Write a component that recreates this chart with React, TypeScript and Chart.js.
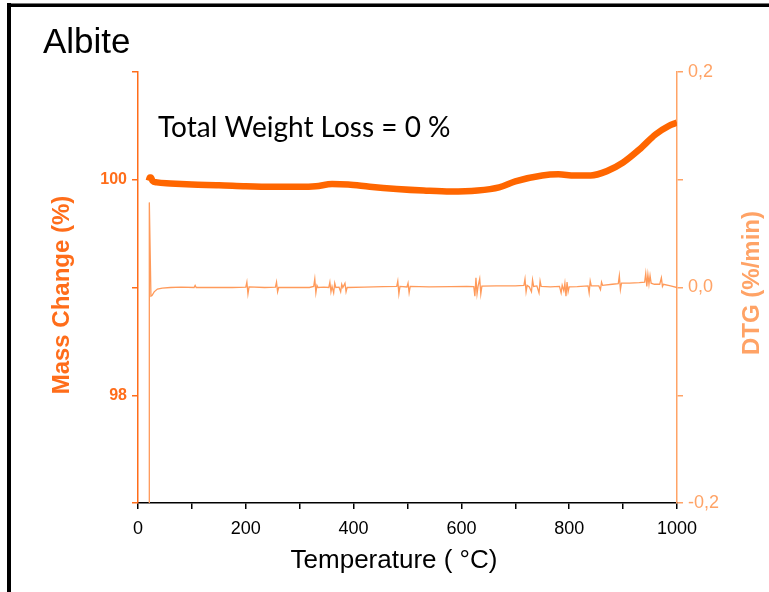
import React, { useEffect, useRef } from "react";
import { Chart, registerables } from "chart.js";

Chart.register(...registerables);

// TGA of albite: temperature (°C) vs. mass (%)
const massReadings: [number, number][] = [
  [20, 99.99], [22, 100.02], [24, 100.02], [27, 99.99], [35, 99.975], [60, 99.965],
  [100, 99.955], [150, 99.95], [200, 99.94], [250, 99.935], [300, 99.935], [330, 99.94],
  [360, 99.96], [390, 99.955], [430, 99.935], [480, 99.915], [530, 99.9], [580, 99.89],
  [630, 99.9], [670, 99.93], [700, 99.985], [750, 100.04], [780, 100.05], [810, 100.04],
  [840, 100.04], [870, 100.08], [900, 100.16], [930, 100.28], [960, 100.42], [985, 100.5],
  [1000, 100.53],
];

// DTG signal: temperature (°C) vs. rate (%/min)
const dtgReadings: [number, number][] = [
  [20.5, -0.25], [21, 0.079], [24, -0.008], [26, -0.0075], [30, -0.004], [36, -0.0015],
  [45, -0.0005], [60, 0], [80, 0.0003], [104, 0], [106, 0.002], [108, 0], [140, 0.0002],
  [175, 0], [200, 0.0004], [202, 0.005], [204, -0.006], [206, 0.0005], [235, 0],
  [255, 0.0003], [257, 0.005], [259, -0.004], [261, 0], [295, 0.0002], [318, 0],
  [326, 0.001], [328, 0.008], [330, -0.005], [332, 0.002], [334, 0], [345, 0.0003],
  [354, 0], [356, 0.005], [358, -0.004], [360, 0.001], [363, -0.005], [365, 0.004],
  [367, 0], [373, 0.0003], [376, -0.004], [378, 0.003], [380, 0], [384, 0.004],
  [386, -0.004], [388, 0], [420, 0.0004], [455, 0.0008], [480, 0.001], [482, 0.006],
  [484, -0.006], [486, 0.001], [499, 0.0005], [501, 0.004], [503, -0.005], [505, 0.001],
  [540, 0.0006], [580, 0.0008], [610, 0.001], [623, 0.0008], [625, -0.008], [627, 0.009],
  [629, -0.006], [631, 0.0012], [634, 0.008], [636, -0.006], [638, 0.0012], [665, 0.0015],
  [700, 0.0015], [716, 0.002], [718, 0.008], [720, -0.004], [722, 0.002], [726, 0.0005],
  [730, -0.004], [732, 0.007], [734, 0.001], [740, 0.0015], [744, -0.005], [746, 0.006],
  [748, 0.001], [765, 0.0005], [782, 0.001], [785, -0.005], [787, 0.002], [790, -0.003],
  [792, 0.004], [794, -0.008], [796, 0.005], [798, -0.004], [800, 0.0005], [815, 0.0008],
  [835, 0.0015], [837, -0.005], [839, 0.006], [841, 0.0015], [855, 0.0015], [858, -0.002],
  [860, 0.005], [862, 0.002], [880, 0.003], [891, 0.0035], [893, 0.011], [895, -0.002],
  [897, 0.004], [912, 0.004], [930, 0.0045], [940, 0.005], [942, 0.013], [944, 0.001],
  [946, 0.012], [948, 0.003], [950, 0.011], [952, 0.004], [958, 0.003], [968, 0.003],
  [971, 0.009], [973, 0.001], [975, 0.003], [988, 0.0015], [1000, 0],
];

const sampleName = "Albite";
const weightLossNote = "Total Weight Loss = 0 %";
const xTitle = "Temperature ( \u00B0C)";
const massTitle = "Mass Change (%)";
const dtgTitle = "DTG (%/min)";

const MASS_COLOR = "#FF6600";
const MASS_AXIS_COLOR = "#FF6D1A";
const DTG_COLOR = "#FF9A5A";
const DTG_AXIS_COLOR = "#FFA366";
const SANS = "'Liberation Sans', Arial, sans-serif";

const framePlugin = {
  id: "frameAndText",
  beforeDraw(chart: Chart) {
    const ctx = chart.ctx;
    ctx.save();
    ctx.fillStyle = "#ffffff";
    ctx.fillRect(0, 0, chart.width, chart.height);
    ctx.fillStyle = "#777777";
    ctx.fillRect(7, 3, chart.width - 7, 1);
    ctx.fillStyle = "#000000";
    ctx.fillRect(7, 4, chart.width - 7, 3);
    ctx.fillRect(7, 3, 4, chart.height - 3);
    ctx.restore();
  },
  afterDraw(chart: Chart) {
    const ctx = chart.ctx;
    ctx.save();
    ctx.fillStyle = "#000000";
    ctx.textBaseline = "alphabetic";
    ctx.textAlign = "left";
    ctx.font = `35px ${SANS}`;
    ctx.fillText(sampleName, 43, 53);

    ctx.font = "28px Lato, 'Open Sans', sans-serif";
    ctx.fillText(weightLossNote, 158, 137);

    ctx.textAlign = "center";
    ctx.textBaseline = "middle";
    ctx.font = `26px ${SANS}`;
    ctx.fillText(xTitle, 394, 561);

    ctx.font = `bold 24px ${SANS}`;
    ctx.fillStyle = MASS_AXIS_COLOR;
    ctx.translate(62, 295);
    ctx.rotate(-Math.PI / 2);
    ctx.fillText(massTitle, 0, 0);
    ctx.restore();

    ctx.save();
    ctx.font = `bold 24px ${SANS}`;
    ctx.fillStyle = DTG_AXIS_COLOR;
    ctx.textAlign = "center";
    ctx.textBaseline = "middle";
    ctx.translate(752, 283);
    ctx.rotate(-Math.PI / 2);
    ctx.fillText(dtgTitle, 0, 0);
    ctx.restore();
  },
};

export default function App() {
  const canvasRef = useRef<HTMLCanvasElement>(null);

  useEffect(() => {
    if (!canvasRef.current) return;
    const chart = new Chart(canvasRef.current, {
      type: "line",
      data: {
        datasets: [
          {
            label: "Mass",
            data: massReadings.map(([x, y]) => ({ x, y })),
            yAxisID: "y",
            borderColor: MASS_COLOR,
            borderWidth: 6.5,
            pointRadius: 0,
            cubicInterpolationMode: "monotone",
            fill: false,
          },
          {
            label: "DTG",
            data: dtgReadings.map(([x, y]) => ({ x, y })),
            yAxisID: "y1",
            borderColor: DTG_COLOR,
            borderWidth: 1.3,
            pointRadius: 0,
            tension: 0,
            fill: false,
          },
        ],
      },
      options: {
        animation: false,
        responsive: false,
        devicePixelRatio: 1,
        layout: { padding: { top: 72, left: 0, right: 0, bottom: 0 } },
        plugins: {
          legend: { display: false },
          tooltip: { enabled: false },
          title: { display: false },
        },
        scales: {
          x: {
            type: "linear",
            min: 0,
            max: 1000,
            afterFit: (s: any) => {
              s.height = 89;
            },
            ticks: {
              stepSize: 100,
              color: "#000000",
              font: { family: SANS, size: 18 },
              padding: 9,
              maxRotation: 0,
              autoSkip: false,
              callback: (v: any) => (Math.round(v) % 200 === 0 ? String(v) : ""),
            },
            grid: { drawOnChartArea: false, drawTicks: true, tickLength: 6, color: "#000000", lineWidth: 1.5 },
            border: { display: true, color: "#000000", width: 1.5 },
          },
          y: {
            type: "linear",
            position: "left",
            min: 97,
            max: 101,
            afterFit: (s: any) => {
              s.width = 138;
            },
            ticks: {
              stepSize: 1,
              color: MASS_AXIS_COLOR,
              font: { family: SANS, size: 16, weight: "bold" },
              padding: 5,
              autoSkip: false,
              callback: (v: any) => (Math.round(v) % 2 === 0 ? String(v) : ""),
            },
            grid: { drawOnChartArea: false, drawTicks: true, tickLength: 6, color: MASS_AXIS_COLOR, lineWidth: 1.5 },
            border: { display: true, color: MASS_AXIS_COLOR, width: 1.5 },
          },
          y1: {
            type: "linear",
            position: "right",
            min: -0.2,
            max: 0.2,
            afterFit: (s: any) => {
              s.width = 92;
            },
            ticks: {
              stepSize: 0.1,
              color: DTG_AXIS_COLOR,
              font: { family: SANS, size: 18 },
              padding: 5,
              autoSkip: false,
              callback: (v: any) => {
                const t = Math.round(v * 10);
                return t % 2 === 0 ? (t / 10).toFixed(1).replace(".", ",") : "";
              },
            },
            grid: { drawOnChartArea: false, drawTicks: true, tickLength: 6, color: DTG_AXIS_COLOR, lineWidth: 1.5 },
            border: { display: true, color: DTG_AXIS_COLOR, width: 1.5 },
          },
        },
      },
      plugins: [framePlugin],
    });
    return () => chart.destroy();
  }, []);

  return (
    <div style={{ position: "absolute", left: 0, top: 0, width: 769, height: 592 }}>
      <canvas ref={canvasRef} width={769} height={592} />
    </div>
  );
}
